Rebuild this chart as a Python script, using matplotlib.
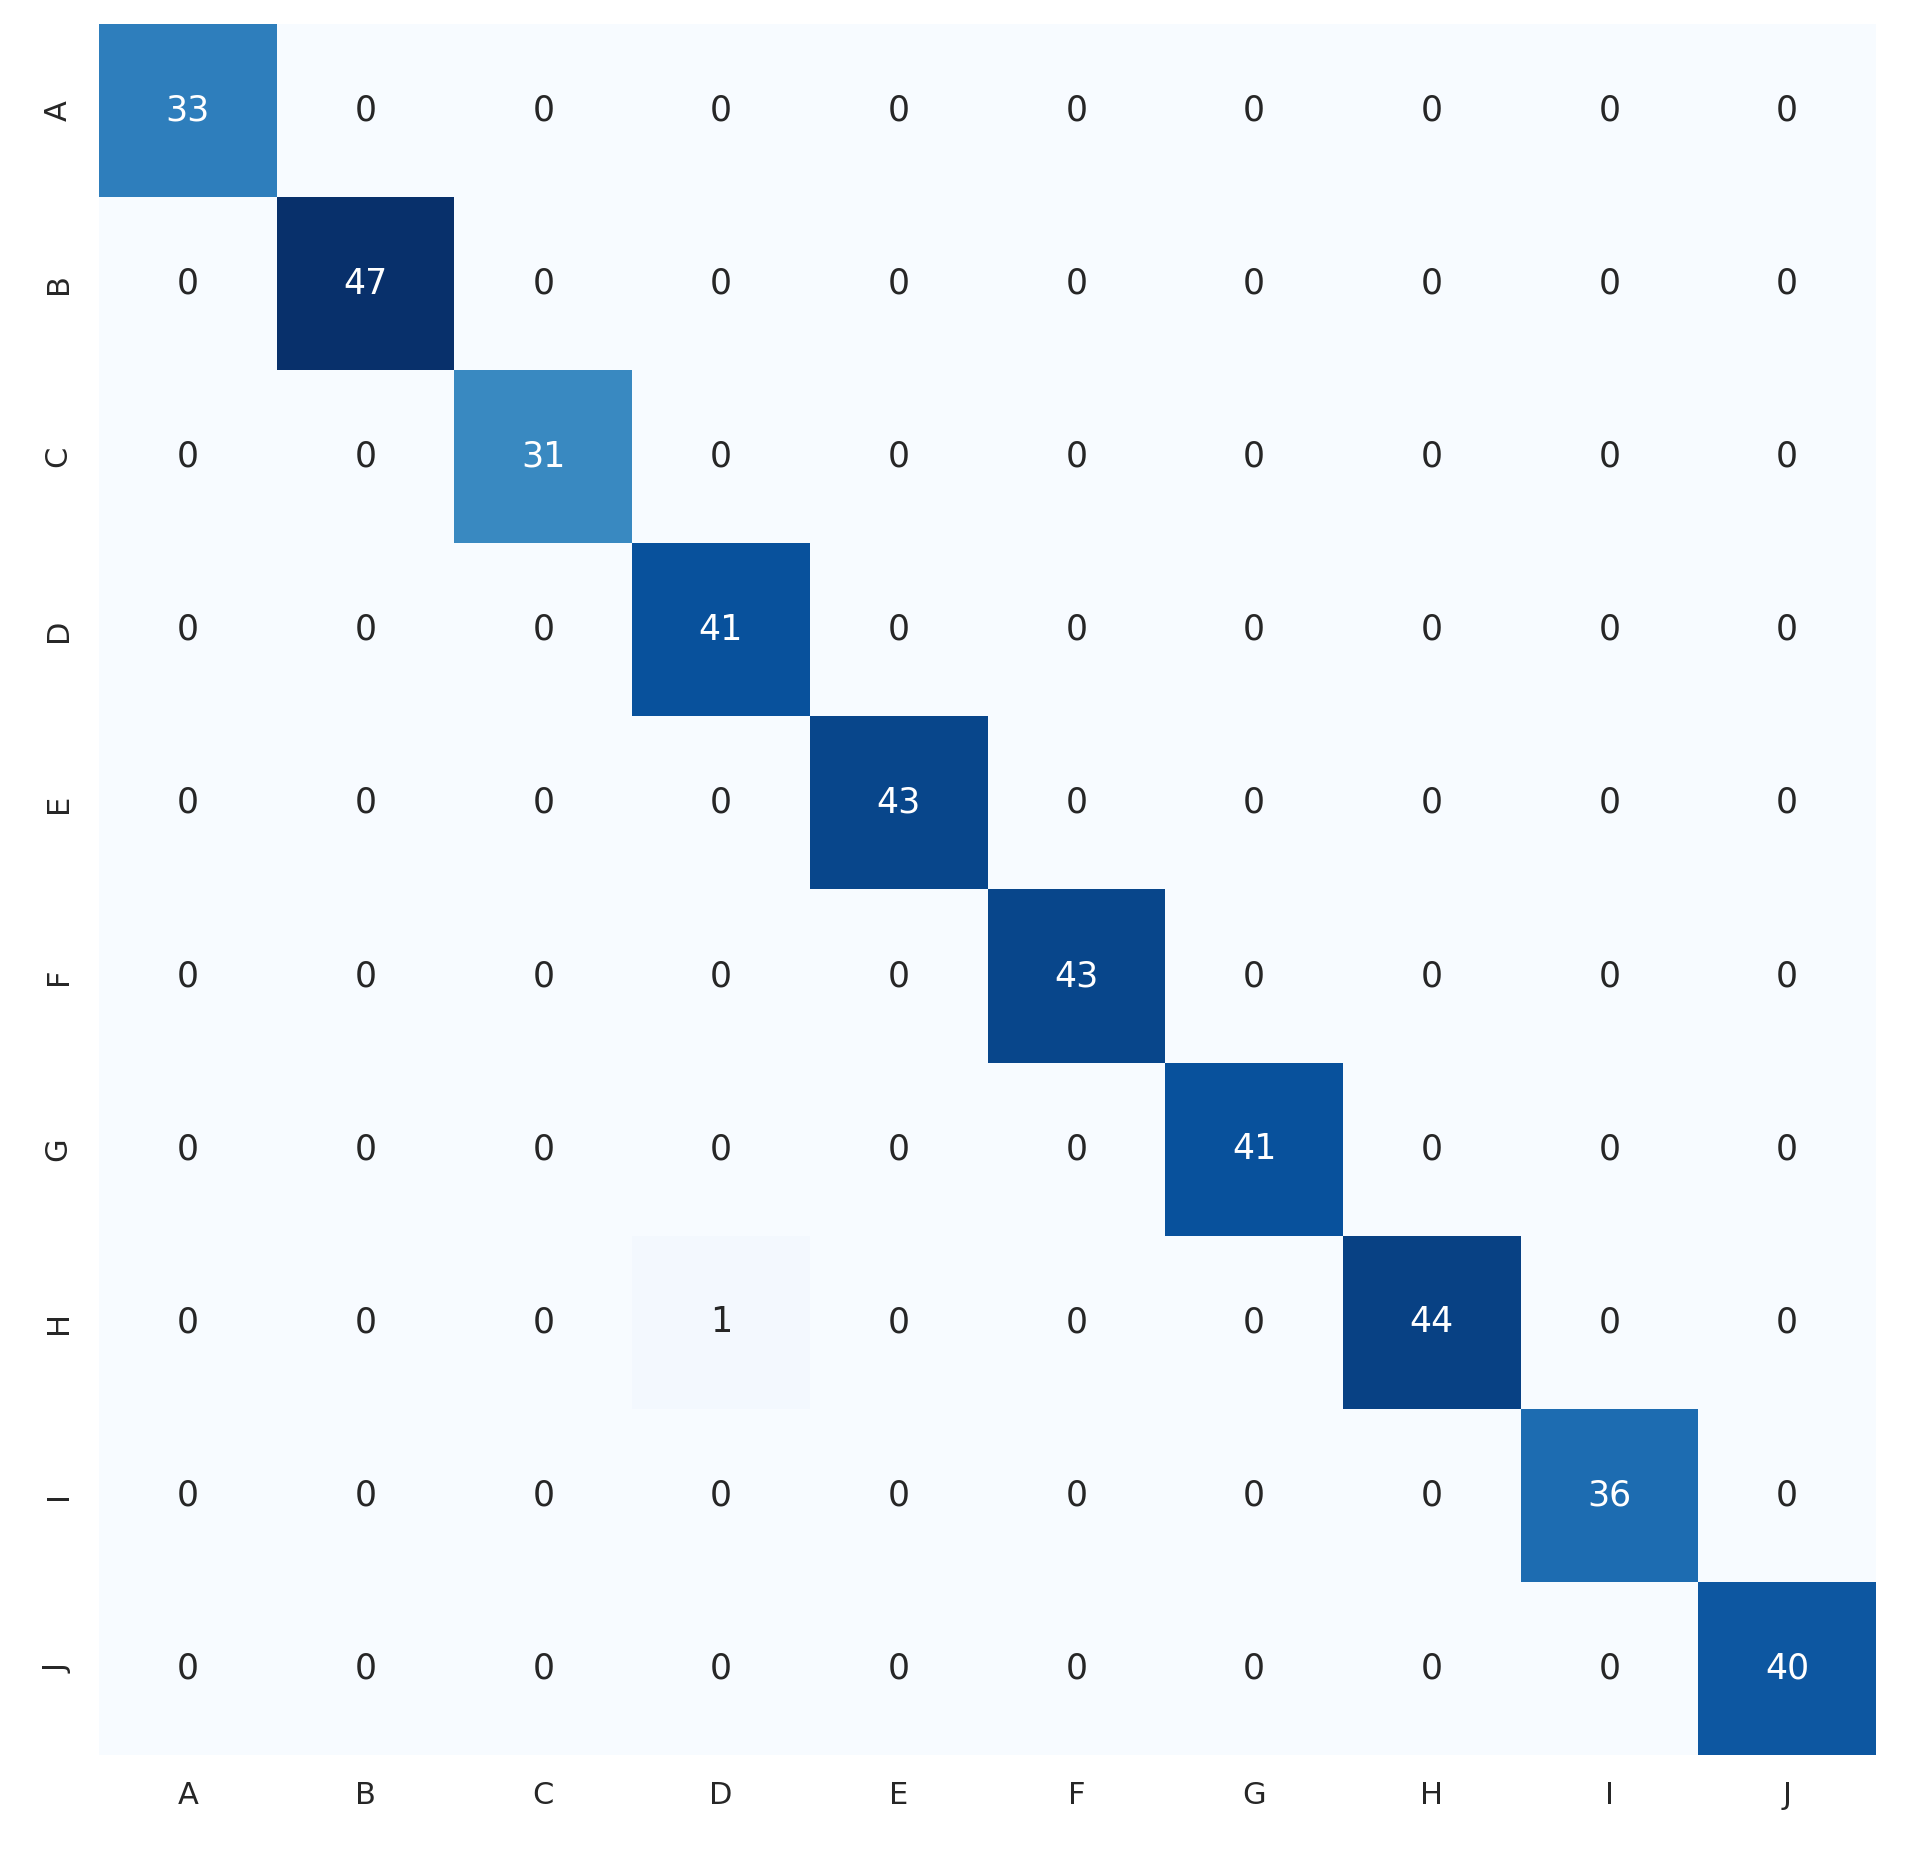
import matplotlib
matplotlib.use("Agg")
import matplotlib.pyplot as plt
import numpy as np
import seaborn as sns

sns.set_theme(style="white")

# Class labels and confusion matrix (rows = true, cols = predicted)
labels = ["A", "B", "C", "D", "E", "F", "G", "H", "I", "J"]
diag_counts = [33, 47, 31, 41, 43, 43, 41, 44, 36, 40]
# off-diagonal errors: (row, col, count)
off_diag = [(7, 3, 1)]

cm = np.diag(diag_counts)
for r, c, n in off_diag:
    cm[r, c] = n

fig = plt.figure(figsize=(9.56, 9.25), dpi=200)
ax = fig.add_axes([0.0518, 0.0514, 0.9294, 0.9356])

sns.heatmap(cm, annot=True, fmt="d", cmap="Blues", cbar=False,
            annot_kws={"size": 12.5},
            xticklabels=labels, yticklabels=labels, ax=ax)
ax.tick_params(axis="y", rotation=90)
ax.tick_params(axis="x", rotation=0)

fig.savefig("out.png", dpi=200)
